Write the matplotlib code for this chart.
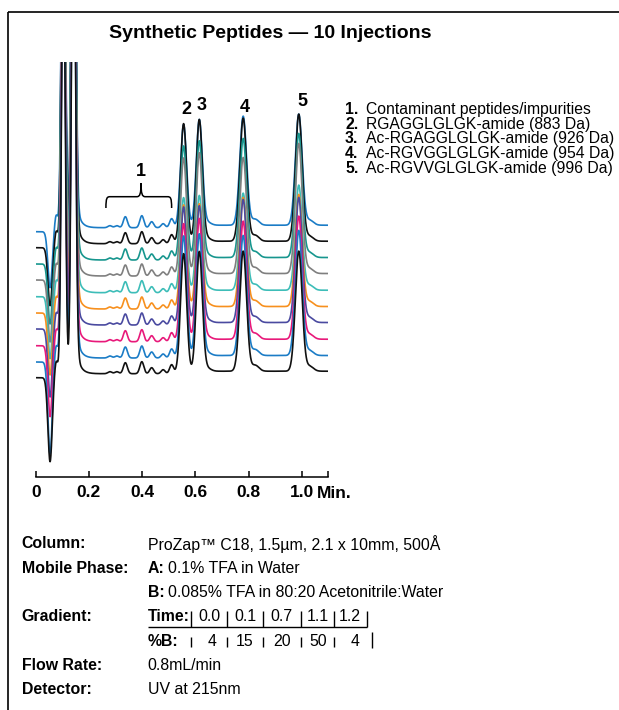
import matplotlib

matplotlib.use("Agg")
import matplotlib.pyplot as plt
import numpy as np
from matplotlib.lines import Line2D
from matplotlib.path import Path
from matplotlib.patches import PathPatch

# Arial-metric sans; widths match the reference text well
plt.rcParams["font.family"] = ["Liberation Sans", "DejaVu Sans"]

# ------------------------------------------------------------------
# data (signal in arbitrary units)
# ------------------------------------------------------------------
trace_offset = [245.3, 229.3, 213.0, 197.0, 180.3, 164.0, 148.0, 131.3, 115.0, 99.3]
dip_rt = 0.054
dip_depth = [56, 58, 60, 62, 62, 62, 68, 71, 92, 84]
front_bump_rt, front_bump_ht = 0.077, 17
solvent_rt = [0.104, 0.142]
solvent_ht = [450, 520]
impurity_rt = [0.279, 0.305, 0.337, 0.399, 0.436, 0.479, 0.511]
impurity_ht = [2, 2, 11, 12, 6, 4, 9]
peak_rt = [0.556, 0.615, 0.780, 0.989]          # peaks 2..5
peak_ht = [
    [103, 106, 109, 111],
    [120, 122, 123, 127],
    [114, 117, 119, 124],
    [118, 121, 116, 130],
    [95, 95, 97, 105],
    [104, 103, 109, 112],
    [118, 117, 123, 125],
    [118, 121, 118, 123],
    [122, 122, 120, 125],
    [120, 120, 120, 120],
]
shoulder_rt = [0.645, 0.825, 1.030]
shoulder_ht = [3, 6, 5]
drift_steps = [(0.12, 4.0), (0.60, 2.5)]  # (time, rise)

legend_items = [
    "Contaminant peptides/impurities",
    "RGAGGLGLGK-amide (883 Da)",
    "Ac-RGAGGLGLGK-amide (926 Da)",
    "Ac-RGVGGLGLGK-amide (954 Da)",
    "Ac-RGVVGLGLGK-amide (996 Da)",
]
grad_time = ["0.0", "0.1", "0.7", "1.1", "1.2"]
grad_b = ["4", "15", "20", "50", "4"]

colors = ["#1b7cc6", "#111111", "#17968e", "#7f7f7f", "#3dbdb8",
          "#f7901e", "#4a4aa0", "#e8197a", "#1b7cc6", "#111111"]

W, H = 619, 710


def gauss(t, rt, h, s):
    return h * np.exp(-0.5 * ((t - rt) / s) ** 2)


def tailed(t, rt, h, s, tau):
    g = np.exp(-0.5 * ((t - rt) / s) ** 2)
    dt = t[1] - t[0]
    k = np.exp(-np.arange(0, 8 * tau, dt) / tau)
    y = np.convolve(g, k)[: len(t)]
    return h * y / y.max()


t = np.linspace(0, 1.1, 2201)


def trace(i):
    y = np.full_like(t, trace_offset[i])
    for tm, rise in drift_steps:
        y += rise / (1 + np.exp(-(t - tm) / 0.012))
    y -= gauss(t, dip_rt, dip_depth[i], 0.008)
    y += gauss(t, front_bump_rt, front_bump_ht, 0.0065)
    y += gauss(t, solvent_rt[0], solvent_ht[0], 0.007)
    y += gauss(t, solvent_rt[1], solvent_ht[1], 0.0075)
    y += tailed(t, 0.152, 12, 0.006, 0.015)
    for rt, h in zip(impurity_rt, impurity_ht):
        y += gauss(t, rt, h, 0.0075)
    for k, rt in enumerate(peak_rt):
        s = 0.0115 if k < 2 else 0.0128
        y += gauss(t, rt, peak_ht[i][k], s)
    for rt, h in zip(shoulder_rt, shoulder_ht):
        y += gauss(t, rt, h, 0.014)
    return y


def px(x, y):
    return x / W, 1 - y / H


fig = plt.figure(figsize=(W / 100, H / 100), dpi=100)
ax_l, ax_r, ax_b, ax_t = 35.7, 328.3, 477, 62
ax = fig.add_axes([ax_l / W, 1 - ax_b / H, (ax_r - ax_l) / W, (ax_b - ax_t) / H])

for i in range(10):
    ax.plot(t, trace(i), color=colors[i], lw=1.2, solid_joinstyle="round")

ax.set_xlim(0, 1.1)
ax.set_ylim(0, ax_b - ax_t)
for side in ("left", "right", "top"):
    ax.spines[side].set_visible(False)
ax.spines["bottom"].set_linewidth(1.1)
ax.set_yticks([])
ax.set_xticks([0, 0.2, 0.4, 0.6, 0.8, 1.0, 1.1])
ax.set_xticklabels(["0", "0.2", "0.4", "0.6", "0.8", "1.0", ""],
                   fontsize=12.5, fontweight="bold")
ax.tick_params(axis="x", direction="in", length=4.5, width=1.1, pad=6)
ax.text(1.058, -16, "Min.", fontsize=12.5, fontweight="bold",
        ha="left", va="center", clip_on=False)

# peak numbers
for lbl, x, y in [("2", 0.565, 367), ("3", 0.624, 372), ("4", 0.786, 369), ("5", 1.003, 375)]:
    ax.text(x, y, lbl, fontsize=13, fontweight="bold", ha="center", va="center")

# curly brace over the impurity region
yb, yend, ytip = 280.3, 269, 294
xl, xm, xr = 0.264, 0.396, 0.511
verts = [
    (xl, yend), (xl, yb - 1), (xl + 0.004, yb), (xl + 0.016, yb),
    (xm - 0.016, yb),
    (xm - 0.004, yb), (xm, yb + 3), (xm, ytip),
    (xm, yb + 3), (xm + 0.004, yb), (xm + 0.016, yb),
    (xr - 0.016, yb),
    (xr - 0.004, yb), (xr, yb - 1), (xr, yend),
]
codes = [Path.MOVETO, Path.CURVE4, Path.CURVE4, Path.CURVE4,
         Path.LINETO,
         Path.CURVE4, Path.CURVE4, Path.CURVE4,
         Path.CURVE4, Path.CURVE4, Path.CURVE4,
         Path.LINETO,
         Path.CURVE4, Path.CURVE4, Path.CURVE4]
ax.add_patch(PathPatch(Path(verts, codes), fill=False, lw=1.1, color="black"))
ax.text(xm, 305, "1", fontsize=13, fontweight="bold", ha="center", va="center")

# title
fig.text(*px(270, 34), "Synthetic Peptides \u2014 10 Injections", fontsize=14,
         fontweight="bold", ha="center", va="center")

# peak legend
for k, item in enumerate(legend_items):
    y = 109.3 + 14.8 * k
    fig.text(*px(345, y), f"{k + 1}.", fontsize=11.3, fontweight="bold", va="center")
    fig.text(*px(366.5, y), item, fontsize=11.3, va="center")

# method block
fs = 11.4
lx, vx = 21.7, 147.7
rows = [544, 568.3, 592.3, 616.7, 641.7, 665.7, 690]
fig.text(*px(lx, rows[0]), "Column:", fontsize=fs, fontweight="bold", va="center")
fig.text(*px(vx, rows[0]), "ProZap\u2122 C18, 1.5\u00b5m, 2.1 x 10mm, 500\u00c5", fontsize=fs, va="center")
fig.text(*px(lx, rows[1]), "Mobile Phase:", fontsize=fs, fontweight="bold", va="center")
fig.text(*px(vx, rows[1]), "A:", fontsize=fs, fontweight="bold", va="center")
fig.text(*px(168, rows[1]), "0.1% TFA in Water", fontsize=fs, va="center")
fig.text(*px(vx, rows[2]), "B:", fontsize=fs, fontweight="bold", va="center")
fig.text(*px(168.5, rows[2]), "0.085% TFA in 80:20 Acetonitrile:Water", fontsize=fs, va="center")
fig.text(*px(lx, rows[3]), "Gradient:", fontsize=fs, fontweight="bold", va="center")
fig.text(*px(vx, rows[3]), "Time:", fontsize=fs, fontweight="bold", va="center")
fig.text(*px(vx, rows[4]), "%B:", fontsize=fs, fontweight="bold", va="center")
for x, s in zip([209, 245, 281.7, 317.7, 350], grad_time):
    fig.text(*px(x, rows[3]), s, fontsize=fs, ha="center", va="center")
for x, s in zip([211.7, 244.3, 281.7, 318.3, 355], grad_b):
    fig.text(*px(x, rows[4]), s, fontsize=fs, ha="center", va="center")


def fline(x0, y0, x1, y1, lw=1.0):
    (a, b), (c, d) = px(x0, y0), px(x1, y1)
    fig.add_artist(Line2D([a, c], [b, d], transform=fig.transFigure,
                          color="black", lw=lw, solid_capstyle="butt"))


fline(vx, 627, 366.7, 627)
for x in [191, 226.7, 263.3, 301, 334.3, 366.7]:
    fline(x, 611, x, 627)
for x in [191, 226.7, 263.3, 301, 334.3]:
    fline(x, 637, x, 647)
fline(372.3, 632, 372.3, 648)
fig.text(*px(lx, rows[5]), "Flow Rate:", fontsize=fs, fontweight="bold", va="center")
fig.text(*px(vx, rows[5]), "0.8mL/min", fontsize=fs, va="center")
fig.text(*px(lx, rows[6]), "Detector:", fontsize=fs, fontweight="bold", va="center")
fig.text(*px(vx, rows[6]), "UV at 215nm", fontsize=fs, va="center")

# open frame (left and top edges only are inside the picture)
fline(8.3, 12.3, 8.3, H, lw=1.2)
fline(8.3, 12.3, W, 12.3, lw=1.2)

fig.savefig("out.png", dpi=100)
